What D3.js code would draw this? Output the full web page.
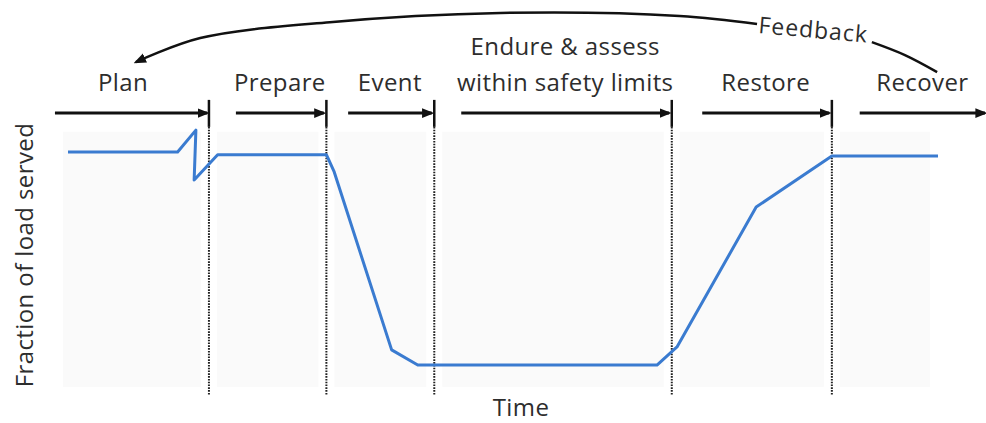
<!DOCTYPE html>
<html>
<head>
<meta charset="utf-8">
<script src="https://cdn.jsdelivr.net/npm/d3@7"></script>
<style>
  body { margin: 0; background: #fff; }
  text { font-family: "Open Sans", "Noto Sans", sans-serif; fill: #2d2d2d; font-weight: 500; letter-spacing: 0.4px; }
</style>
</head>
<body>
<svg id="chart" width="986" height="423"></svg>
<script>
// phases of the resilience timeline
var phaseLines = [["Plan"], ["Prepare"], ["Event"], ["Endure & assess", "within safety limits"], ["Restore"], ["Recover"]];
// phase boundaries, in time units
var boundaries = [16.2, 29.7, 42.1, 69.4, 87.8];
var arrowStart = [-1.5, 19.3, 32.2, 45.2, 72.9, 91.0];
var arrowEnd = [16.0, 29.4, 41.8, 69.1, 87.5, 105.4];

// fraction of load served over time
var time = [0, 12.6, 14.7, 14.5, 17.2, 29.7, 30.6, 37.2, 40.2, 67.7, 70.0, 79.1, 87.8, 100];
var load = [0.90, 0.90, 0.981, 0.796, 0.89, 0.89, 0.826, 0.167, 0.111, 0.111, 0.178, 0.696, 0.885, 0.885];

// feedback loop (left part ends on Plan, right part leaves Recover)
var fbLeftT = [79.2, 70.3, 49.7, 30.1, 15.2, 7.8];
var fbLeftY = [1.374, 1.404, 1.415, 1.381, 1.322, 1.233];
var fbRightT = [99.9, 96.2, 92.4];
var fbRightY = [1.196, 1.259, 1.307];

var svg = d3.select("#chart");
var x = d3.scaleLinear().domain([0, 100]).range([68, 938]);
var y = d3.scaleLinear().domain([0, 1]).range([395, 125]);

var arrowY = 1.044, tickTop = 1.093, tickBot = 0.993;

var defs = svg.append("defs");
defs.append("marker")
	.attr("id", "head")
	.attr("viewBox", "0 0 10 10")
	.attr("refX", 8).attr("refY", 5)
	.attr("markerWidth", 4).attr("markerHeight", 4)
	.attr("orient", "auto")
	.append("path").attr("d", "M0,1 L10,5 L0,9 Z").attr("fill", "#111");
defs.append("marker")
	.attr("id", "head2")
	.attr("viewBox", "0 0 10 10")
	.attr("refX", 8).attr("refY", 5)
	.attr("markerWidth", 5).attr("markerHeight", 5)
	.attr("orient", "auto")
	.append("path").attr("d", "M0,1 L10,5 L0,9 Z").attr("fill", "#111");

// faint panels behind each phase
var edges = [x(-1.5)].concat(boundaries.map(x), [x(100)]);
svg.selectAll("rect.panel")
	.data(d3.range(edges.length - 1))
	.enter().append("rect")
	.attr("class", "panel")
	.attr("x", function(i) { return edges[i] + 8; })
	.attr("width", function(i) { return edges[i + 1] - edges[i] - 16; })
	.attr("y", y(0.975))
	.attr("height", y(0.03) - y(0.975))
	.attr("fill", "#fafafa");

// dotted boundaries and solid ticks
svg.selectAll("line.bound")
	.data(boundaries)
	.enter().append("line")
	.attr("class", "bound")
	.attr("x1", x).attr("x2", x)
	.attr("y1", y(tickBot)).attr("y2", y(0))
	.attr("stroke", "#222")
	.attr("stroke-width", 2)
	.attr("stroke-dasharray", "1.6,1.2");
svg.selectAll("line.tick")
	.data(boundaries)
	.enter().append("line")
	.attr("class", "tick")
	.attr("x1", x).attr("x2", x)
	.attr("y1", y(tickTop)).attr("y2", y(tickBot))
	.attr("stroke", "#111")
	.attr("stroke-width", 2.5);

// phase arrows
svg.selectAll("line.arrow")
	.data(arrowStart)
	.enter().append("line")
	.attr("class", "arrow")
	.attr("x1", function(d) { return x(d); })
	.attr("x2", function(d, i) { return x(arrowEnd[i]); })
	.attr("y1", y(arrowY)).attr("y2", y(arrowY))
	.attr("stroke", "#111")
	.attr("stroke-width", 3)
	.attr("marker-end", "url(#head)");

// phase labels
svg.selectAll("text.phase")
	.data(phaseLines)
	.enter().append("text")
	.attr("class", "phase")
	.attr("text-anchor", "middle")
	.attr("font-size", 24)
	.each(function(lines, i) {
		var cx = (x(arrowStart[i]) + x(arrowEnd[i])) / 2;
		if (i == 0) cx -= 8;
		var t = d3.select(this);
		lines.forEach(function(s, k) {
			t.append("tspan")
				.attr("x", cx)
				.attr("y", 91 - (lines.length - 1 - k) * 36)
				.text(s);
		});
	});

// load curve
var pts = time.map(function(t, i) { return [t, load[i]]; });
svg.append("path")
	.datum(pts)
	.attr("fill", "none")
	.attr("stroke", "#3a7bd0")
	.attr("stroke-width", 3)
	.attr("stroke-linejoin", "round")
	.attr("d", d3.line().x(function(d) { return x(d[0]); }).y(function(d) { return y(d[1]); }));

// feedback loop
var curve = d3.line().curve(d3.curveCatmullRom)
	.x(function(d) { return x(d[0]); }).y(function(d) { return y(d[1]); });
svg.append("path")
	.datum(fbLeftT.map(function(t, i) { return [t, fbLeftY[i]]; }))
	.attr("fill", "none").attr("stroke", "#111").attr("stroke-width", 2.5)
	.attr("marker-end", "url(#head2)")
	.attr("d", curve);
svg.append("path")
	.datum(fbRightT.map(function(t, i) { return [t, fbRightY[i]]; }))
	.attr("fill", "none").attr("stroke", "#111").attr("stroke-width", 2.5)
	.attr("d", curve);
svg.append("text")
	.attr("font-size", 23)
	.style("letter-spacing", "1px")
	.attr("transform", "translate(" + (x(79.2) + 1) + "," + (y(1.374) + 9) + ") rotate(5)")
	.text("Feedback");

// axis titles
svg.append("text")
	.attr("text-anchor", "middle")
	.attr("font-size", 24)
	.attr("x", 521).attr("y", 416)
	.text("Time");
svg.append("text")
	.attr("text-anchor", "middle")
	.attr("font-size", 24)
	.attr("transform", "translate(33," + 255 + ") rotate(-90)")
	.text("Fraction of load served");
</script>
</body>
</html>
